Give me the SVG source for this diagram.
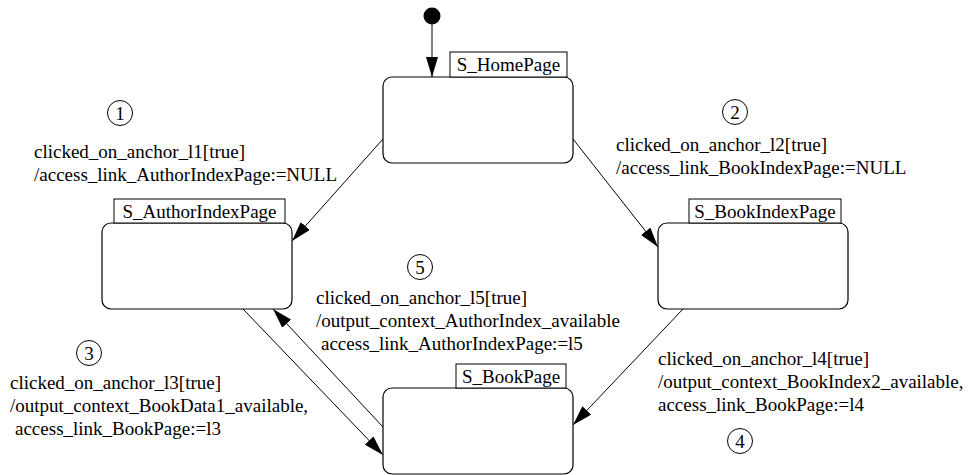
<svg xmlns="http://www.w3.org/2000/svg" width="973" height="475" viewBox="0 0 973 475">
<style>
  .state{fill:#fff;stroke:#000;stroke-width:1.2}
  .tag{fill:#fff;stroke:#000;stroke-width:1}
  .t{font-family:"Liberation Serif","Times New Roman",serif;font-size:19px;fill:#000}
  .c{fill:#fff;stroke:#000;stroke-width:1}
  .e{stroke:#000;stroke-width:1;fill:none;marker-end:url(#arr)}
</style>
<defs>
  <marker id="arr" viewBox="0 0 20 12" refX="20" refY="6" markerWidth="20" markerHeight="12" markerUnits="userSpaceOnUse" orient="auto">
    <path d="M0,0 L20,6 L0,12 z" fill="#000"/>
  </marker>
</defs>
<rect width="973" height="475" fill="#fff"/>
<g id="edges">
  <line class="e" x1="432" y1="24" x2="432" y2="77"/>
  <line class="e" x1="383" y1="139" x2="292" y2="241"/>
  <line class="e" x1="573" y1="139" x2="658" y2="247"/>
  <line class="e" x1="243" y1="309" x2="383" y2="455"/>
  <line class="e" x1="383" y1="427" x2="273" y2="309"/>
  <line class="e" x1="683" y1="309" x2="573" y2="425"/>
</g>
<g id="initial">
  <circle cx="432" cy="16" r="8.5" fill="#000"/>
</g>
<g id="S_HomePage">
  <rect class="state" x="383" y="77" width="190" height="86" rx="9"/>
  <rect class="tag" x="450" y="52" width="117" height="25"/>
  <text class="t" x="508.5" y="71" text-anchor="middle">S_HomePage</text>
</g>
<g id="S_AuthorIndexPage">
  <rect class="state" x="102" y="223" width="190" height="86" rx="9"/>
  <rect class="tag" x="114" y="199" width="171" height="24"/>
  <text class="t" x="199.5" y="218" text-anchor="middle">S_AuthorIndexPage</text>
</g>
<g id="S_BookIndexPage">
  <rect class="state" x="658" y="223" width="190" height="86" rx="9"/>
  <rect class="tag" x="689" y="199" width="152" height="24"/>
  <text class="t" x="765" y="218" text-anchor="middle">S_BookIndexPage</text>
</g>
<g id="S_BookPage">
  <rect class="state" x="383" y="388" width="190" height="86" rx="9"/>
  <rect class="tag" x="456" y="364" width="110" height="24"/>
  <text class="t" x="511" y="383" text-anchor="middle">S_BookPage</text>
</g>
<g id="label1">
  <circle class="c" cx="120" cy="113" r="12.5"/>
  <text class="t" x="120" y="120" text-anchor="middle">1</text>
  <text class="t" x="34" y="158">clicked_on_anchor_l1[true]</text>
  <text class="t" x="34" y="181">/access_link_AuthorIndexPage:=NULL</text>
</g>
<g id="label2">
  <circle class="c" cx="735" cy="112" r="12.5"/>
  <text class="t" x="735" y="119" text-anchor="middle">2</text>
  <text class="t" x="616" y="151">clicked_on_anchor_l2[true]</text>
  <text class="t" x="616" y="174">/access_link_BookIndexPage:=NULL</text>
</g>
<g id="label5">
  <circle class="c" cx="420" cy="267" r="12.5"/>
  <text class="t" x="420" y="274" text-anchor="middle">5</text>
  <text class="t" x="316" y="304">clicked_on_anchor_l5[true]</text>
  <text class="t" x="316" y="327">/output_context_AuthorIndex_available</text>
  <text class="t" x="321" y="350">access_link_AuthorIndexPage:=l5</text>
</g>
<g id="label3">
  <circle class="c" cx="89" cy="353" r="12.5"/>
  <text class="t" x="89" y="360" text-anchor="middle">3</text>
  <text class="t" x="10" y="389">clicked_on_anchor_l3[true]</text>
  <text class="t" x="10" y="412">/output_context_BookData1_available,</text>
  <text class="t" x="15" y="435">access_link_BookPage:=l3</text>
</g>
<g id="label4">
  <circle class="c" cx="740" cy="441" r="12.5"/>
  <text class="t" x="740" y="448" text-anchor="middle">4</text>
  <text class="t" x="658" y="365">clicked_on_anchor_l4[true]</text>
  <text class="t" x="658" y="388">/output_context_BookIndex2_available,</text>
  <text class="t" x="658" y="411">access_link_BookPage:=l4</text>
</g>
</svg>
